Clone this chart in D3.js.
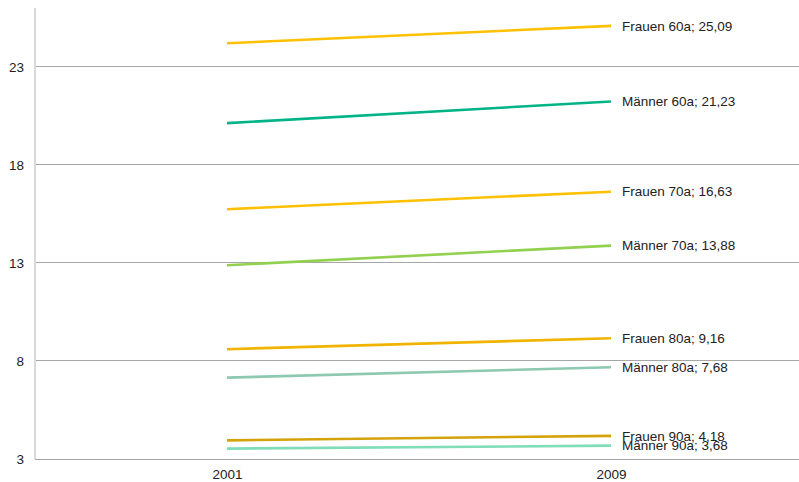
<!DOCTYPE html>
<html>
<head>
<meta charset="utf-8">
<script src="https://cdn.jsdelivr.net/npm/d3@7/dist/d3.min.js"></script>
<style>
  html, body { margin: 0; padding: 0; background: #fff; }
  svg { display: block; font-family: "Liberation Sans", Arial, sans-serif; }
</style>
</head>
<body>
<svg id="chart" width="799" height="482"></svg>
<script>
// Years on the category axis
const years = ["2001", "2009"];
// Series names (sex and age)
const seriesNames = ["Frauen 60a", "Männer 60a", "Frauen 70a", "Männer 70a",
                     "Frauen 80a", "Männer 80a", "Frauen 90a", "Männer 90a"];
// Remaining life expectancy per series, for 2001 and 2009
const values2001 = [24.2, 20.13, 15.74, 12.88, 8.6, 7.15, 3.95, 3.53];
const values2009 = [25.09, 21.23, 16.63, 13.88, 9.16, 7.68, 4.18, 3.68];
const seriesColors = ["#FFC000", "#00B487", "#FFC000", "#92D050",
                      "#F0B400", "#8DC8B0", "#D4A20A", "#7FDDB8"];
// Value axis ticks
const yTicks = [3, 8, 13, 18, 23];

const svg = d3.select("#chart");
const plotLeft = 35, plotRight = 803, plotTop = 8, plotBottom = 459;

const x = d3.scalePoint().domain(years).range([plotLeft, plotRight]).padding(0.5);
const y = d3.scaleLinear().domain([3, 26]).range([plotBottom, plotTop]);

// Horizontal gridlines
svg.append("g")
  .selectAll("line")
  .data(yTicks)
  .join("line")
  .attr("x1", plotLeft).attr("x2", plotRight)
  .attr("y1", d => y(d)).attr("y2", d => y(d))
  .attr("stroke", "#a6a6a6").attr("stroke-width", 1)
  .attr("shape-rendering", "crispEdges");

// Y axis (left)
const yAxis = svg.append("g")
  .attr("transform", `translate(${plotLeft},0)`)
  .call(d3.axisLeft(y).tickValues(yTicks).tickSize(0).tickPadding(11));
yAxis.select(".domain").attr("stroke", "#d9d9d9").attr("stroke-width", 2)
  .attr("d", `M0,${plotTop}V${plotBottom}`);
yAxis.selectAll("text").attr("font-size", 13.5).attr("fill", "#222")
  .attr("font-family", "Liberation Sans, Arial, sans-serif");

// X axis (bottom)
const xAxis = svg.append("g")
  .attr("transform", `translate(0,${plotBottom})`)
  .call(d3.axisBottom(x).tickSize(0).tickPadding(10));
xAxis.select(".domain").attr("stroke", "#a6a6a6").attr("stroke-width", 1)
  .attr("d", `M${plotLeft},0H${plotRight}`).attr("shape-rendering", "crispEdges");
xAxis.selectAll("text").attr("font-size", 13.5).attr("fill", "#222")
  .attr("font-family", "Liberation Sans, Arial, sans-serif");

const series = seriesNames.map((name, i) => ({
  name, color: seriesColors[i],
  points: [{ year: years[0], v: values2001[i] }, { year: years[1], v: values2009[i] }]
}));

const line = d3.line().x(d => x(d.year)).y(d => y(d.v));

// Series lines
svg.append("g")
  .selectAll("path")
  .data(series)
  .join("path")
  .attr("d", d => line(d.points))
  .attr("fill", "none")
  .attr("stroke", d => d.color)
  .attr("stroke-width", 2.6);

// End labels with the 2009 value
const fmt = v => d3.format(".2f")(v).replace(".", ",");
svg.append("g")
  .selectAll("text")
  .data(series)
  .join("text")
  .attr("x", x(years[1]) + 11)
  .attr("y", d => y(d.points[1].v))
  .attr("dy", "0.35em")
  .attr("font-size", 13.5)
  .attr("fill", "#222")
  .text(d => `${d.name}; ${fmt(d.points[1].v)}`);
</script>
</body>
</html>
